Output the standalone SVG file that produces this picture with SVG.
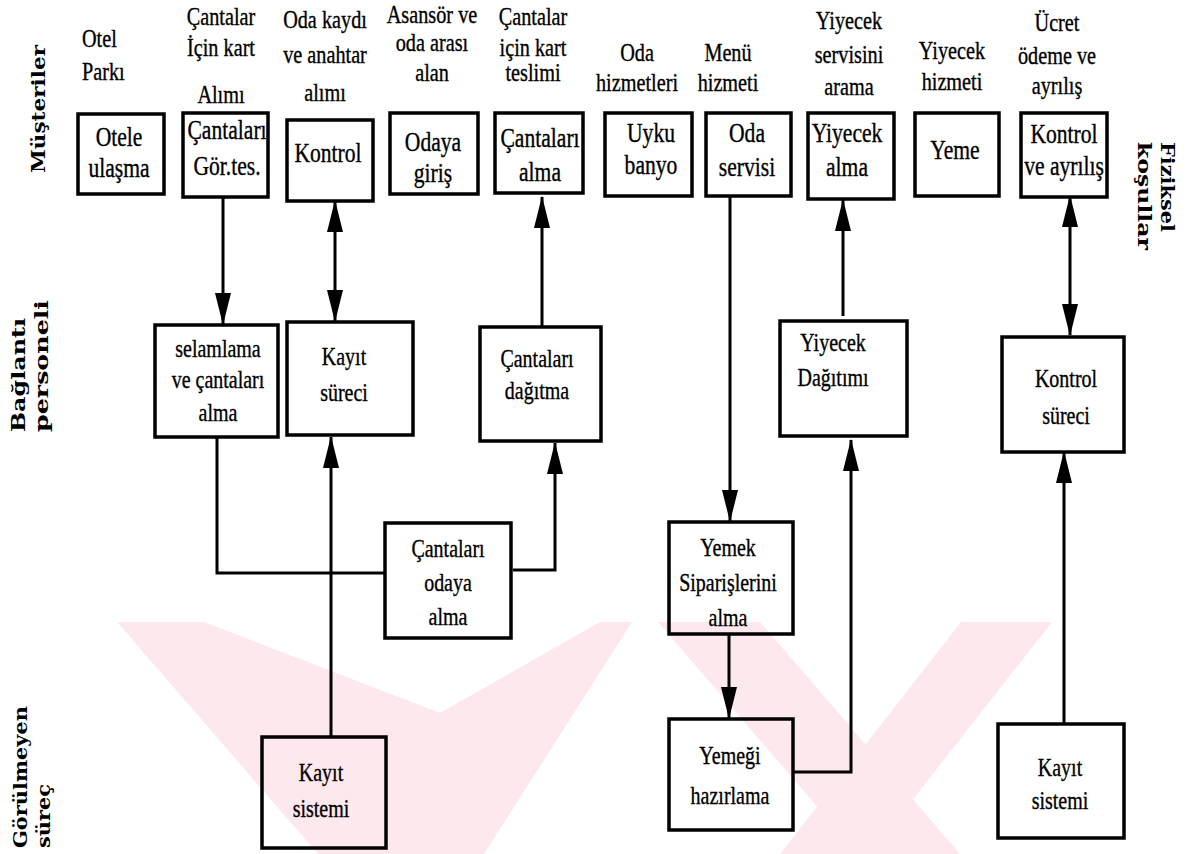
<svg xmlns="http://www.w3.org/2000/svg" width="1187" height="854" viewBox="0 0 1187 854">
<style>
.t{font-family:'Liberation Serif','Times New Roman',serif;font-size:25px;fill:#000;stroke:#000;stroke-width:0.35;text-anchor:middle}
.tb{font-family:'Liberation Serif','Times New Roman',serif;font-size:27px;fill:#000;stroke:#000;stroke-width:0.35;text-anchor:middle}
.side{font-family:'DejaVu Serif',serif;font-size:18px;font-weight:bold;fill:#000}
.box{fill:none;stroke:#000;stroke-width:3.5}
.wm{fill:#fde9ed;stroke:none}
.ln{fill:none;stroke:#000;stroke-width:3}
</style>
<defs>
<marker id="ah" viewBox="0 0 32 16" markerWidth="32" markerHeight="16" refX="31" refY="8" orient="auto-start-reverse" markerUnits="userSpaceOnUse">
<path d="M0,0 L32,8 L0,16 z" fill="#000"/>
</marker>
</defs>
<rect width="1187" height="854" fill="#fff"/>
<g id="watermark">
<polygon class="wm" points="117,622 204,622 440,713 600,622 632,622 484,854 318,854"/>
<polygon class="wm" points="658,622 760,622 960,854 858,854"/>
<polygon class="wm" points="961,622 1052,622 870,854 780,854"/>
</g>
<g id="lane-labels">
<text class="side" transform="translate(45,173) rotate(-90)" textLength="128" lengthAdjust="spacingAndGlyphs">Müşteriler</text>
<text class="side" transform="translate(25,432) rotate(-90)" textLength="114" lengthAdjust="spacingAndGlyphs">Bağlantı</text>
<text class="side" transform="translate(48,432) rotate(-90)" textLength="132" lengthAdjust="spacingAndGlyphs">personeli</text>
<text class="side" transform="translate(27,848) rotate(-90)" textLength="142" lengthAdjust="spacingAndGlyphs">Görülmeyen</text>
<text class="side" transform="translate(50,848) rotate(-90)" textLength="64" lengthAdjust="spacingAndGlyphs">süreç</text>
<text class="side" transform="translate(1161,142) rotate(90)" textLength="90" lengthAdjust="spacingAndGlyphs">Fiziksel</text>
<text class="side" transform="translate(1138,142) rotate(90)" textLength="108" lengthAdjust="spacingAndGlyphs">koşullar</text>
</g>
<g id="headers">
<g transform="translate(82,0) scale(0.81,1)"><text class="t" style="text-anchor:start" x="0" y="47">Otel</text><text class="t" style="text-anchor:start" x="0" y="80">Parkı</text></g>
<g transform="translate(221,0) scale(0.81,1)"><text class="t" x="0" y="25">Çantalar</text><text class="t" x="0" y="56">İçin kart</text><text class="t" x="0" y="103">Alımı</text></g>
<g transform="translate(325,0) scale(0.81,1)"><text class="t" x="0" y="28">Oda kaydı</text><text class="t" x="0" y="63">ve anahtar</text><text class="t" x="0" y="101">alımı</text></g>
<g transform="translate(432,0) scale(0.81,1)"><text class="t" x="0" y="23">Asansör ve</text><text class="t" x="0" y="51">oda arası</text><text class="t" x="0" y="81">alan</text></g>
<g transform="translate(533,0) scale(0.81,1)"><text class="t" x="0" y="25">Çantalar</text><text class="t" x="0" y="56">için kart</text><text class="t" x="0" y="81">teslimi</text></g>
<g transform="translate(637,0) scale(0.81,1)"><text class="t" x="0" y="61">Oda</text><text class="t" x="0" y="91">hizmetleri</text></g>
<g transform="translate(728,0) scale(0.81,1)"><text class="t" x="0" y="61">Menü</text><text class="t" x="0" y="91">hizmeti</text></g>
<g transform="translate(849,0) scale(0.81,1)"><text class="t" x="0" y="29">Yiyecek</text><text class="t" x="0" y="63">servisini</text><text class="t" x="0" y="95">arama</text></g>
<g transform="translate(952,0) scale(0.81,1)"><text class="t" x="0" y="59">Yiyecek</text><text class="t" x="0" y="90">hizmeti</text></g>
<g transform="translate(1057,0) scale(0.81,1)"><text class="t" x="0" y="31">Ücret</text><text class="t" x="0" y="64">ödeme ve</text><text class="t" x="0" y="94">ayrılış</text></g>
</g>
<g id="connectors">
<line class="ln" x1="223" y1="196" x2="223" y2="324" marker-end="url(#ah)"/>
<line class="ln" x1="335" y1="201" x2="335" y2="321" marker-start="url(#ah)" marker-end="url(#ah)"/>
<line class="ln" x1="542" y1="327" x2="542" y2="197" marker-end="url(#ah)"/>
<line class="ln" x1="730" y1="196" x2="730" y2="521" marker-end="url(#ah)"/>
<line class="ln" x1="843" y1="316" x2="843" y2="200" marker-end="url(#ah)"/>
<line class="ln" x1="1070" y1="196" x2="1070" y2="335" marker-start="url(#ah)" marker-end="url(#ah)"/>
<polyline class="ln" points="217,437 217,573 385,573"/>
<line class="ln" x1="331" y1="737" x2="331" y2="437" marker-end="url(#ah)"/>
<polyline class="ln" points="513,570 555,570 555,443" marker-end="url(#ah)"/>
<line class="ln" x1="729" y1="634" x2="729" y2="718" marker-end="url(#ah)"/>
<polyline class="ln" points="793,772 851,772 851,440" marker-end="url(#ah)"/>
<line class="ln" x1="1064" y1="724" x2="1064" y2="452" marker-end="url(#ah)"/>
</g>
<g id="n-otele"><rect class="box" x="78" y="114" width="86" height="80"/><g transform="translate(119,0) scale(0.8,1)"><text class="tb" x="0" y="146">Otele</text><text class="tb" x="0" y="177">ulaşma</text></g></g>
<g id="n-cantalari-gor"><rect class="box" x="183" y="113" width="85" height="84"/><g transform="translate(227,0) scale(0.8,1)"><text class="tb" x="0" y="139">Çantaları</text><text class="tb" x="0" y="175">Gör.tes.</text></g></g>
<g id="n-kontrol1"><rect class="box" x="287" y="120" width="86" height="81"/><g transform="translate(328,0) scale(0.8,1)"><text class="tb" x="0" y="162">Kontrol</text></g></g>
<g id="n-odaya"><rect class="box" x="390" y="113" width="88" height="81"/><g transform="translate(433,0) scale(0.8,1)"><text class="tb" x="0" y="151">Odaya</text><text class="tb" x="0" y="182">giriş</text></g></g>
<g id="n-cantalari-alma"><rect class="box" x="495" y="113" width="88" height="80"/><g transform="translate(540,0) scale(0.8,1)"><text class="tb" x="0" y="147">Çantaları</text><text class="tb" x="0" y="181">alma</text></g></g>
<g id="n-uyku"><rect class="box" x="605" y="113" width="87" height="83"/><g transform="translate(651,0) scale(0.8,1)"><text class="tb" x="0" y="142">Uyku</text><text class="tb" x="0" y="174">banyo</text></g></g>
<g id="n-oda-servisi"><rect class="box" x="706" y="113" width="85" height="83"/><g transform="translate(747,0) scale(0.8,1)"><text class="tb" x="0" y="142">Oda</text><text class="tb" x="0" y="176">servisi</text></g></g>
<g id="n-yiyecek-alma"><rect class="box" x="808" y="113" width="86" height="86"/><g transform="translate(847,0) scale(0.8,1)"><text class="tb" x="0" y="142">Yiyecek</text><text class="tb" x="0" y="176">alma</text></g></g>
<g id="n-yeme"><rect class="box" x="915" y="113" width="84" height="83"/><g transform="translate(955,0) scale(0.8,1)"><text class="tb" x="0" y="159">Yeme</text></g></g>
<g id="n-kontrol-ayrilis"><rect class="box" x="1021" y="113" width="86" height="84"/><g transform="translate(1064,0) scale(0.8,1)"><text class="tb" x="0" y="143">Kontrol</text><text class="tb" x="0" y="175">ve ayrılış</text></g></g>
<g id="n-selamlama"><rect class="box" x="155" y="325" width="123" height="112"/><g transform="translate(218,0) scale(0.8,1)"><text class="t" x="0" y="357">selamlama</text><text class="t" x="0" y="388">ve çantaları</text><text class="t" x="0" y="421">alma</text></g></g>
<g id="n-kayit-sureci"><rect class="box" x="287" y="322" width="126" height="113"/><g transform="translate(344,0) scale(0.8,1)"><text class="t" x="0" y="365">Kayıt</text><text class="t" x="0" y="401">süreci</text></g></g>
<g id="n-cantalari-dagitma"><rect class="box" x="480" y="327" width="121" height="114"/><g transform="translate(537,0) scale(0.8,1)"><text class="t" x="0" y="367">Çantaları</text><text class="t" x="0" y="399">dağıtma</text></g></g>
<g id="n-yiyecek-dagitimi"><rect class="box" x="780" y="321" width="127" height="115"/><g transform="translate(833,0) scale(0.8,1)"><text class="t" x="0" y="351">Yiyecek</text><text class="t" x="0" y="386">Dağıtımı</text></g></g>
<g id="n-kontrol-sureci"><rect class="box" x="1002" y="337" width="122" height="115"/><g transform="translate(1066,0) scale(0.8,1)"><text class="t" x="0" y="387">Kontrol</text><text class="t" x="0" y="424">süreci</text></g></g>
<g id="n-cantalari-odaya"><rect class="box" x="385" y="523" width="126" height="115"/><g transform="translate(448,0) scale(0.8,1)"><text class="t" x="0" y="557">Çantaları</text><text class="t" x="0" y="591">odaya</text><text class="t" x="0" y="625">alma</text></g></g>
<g id="n-yemek-siparis"><rect class="box" x="669" y="522" width="124" height="112"/><g transform="translate(728,0) scale(0.8,1)"><text class="t" x="0" y="556">Yemek</text><text class="t" x="0" y="591">Siparişlerini</text><text class="t" x="0" y="626">alma</text></g></g>
<g id="n-yemegi"><rect class="box" x="669" y="719" width="124" height="111"/><g transform="translate(730,0) scale(0.8,1)"><text class="t" x="0" y="764">Yemeği</text><text class="t" x="0" y="804">hazırlama</text></g></g>
<g id="n-kayit-sistemi-1"><rect class="box" x="262" y="737" width="124" height="111"/><g transform="translate(321,0) scale(0.8,1)"><text class="t" x="0" y="781">Kayıt</text><text class="t" x="0" y="817">sistemi</text></g></g>
<g id="n-kayit-sistemi-2"><rect class="box" x="998" y="724" width="126" height="114"/><g transform="translate(1060,0) scale(0.8,1)"><text class="t" x="0" y="776">Kayıt</text><text class="t" x="0" y="809">sistemi</text></g></g>
</svg>
